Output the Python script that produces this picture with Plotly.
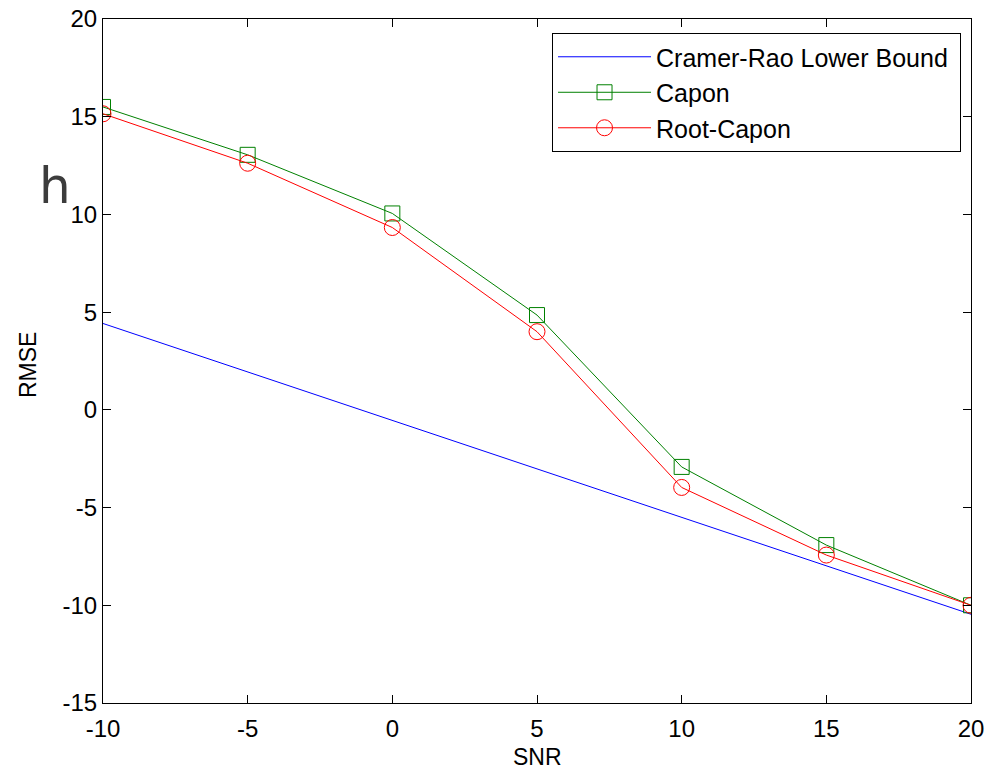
import plotly.graph_objects as go

snr = [-10, -5, 0, 5, 10, 15, 20]
crlb = [4.42, 1.94, -0.54, -3.02, -5.50, -7.98, -10.46]
capon = [15.5, 13.05, 10.05, 4.85, -2.92, -6.92, -10.0]
root_capon = [15.15, 12.62, 9.33, 4.0, -3.97, -7.43, -10.0]

x_ticks = [-10, -5, 0, 5, 10, 15, 20]
y_ticks = [-15, -10, -5, 0, 5, 10, 15, 20]

FONT = "Liberation Sans, Arial, sans-serif"

fig = go.Figure()
fig.add_trace(go.Scatter(
    x=snr, y=crlb, mode="lines", name="Cramer-Rao Lower Bound\u00a0",
    line=dict(color="#0000FF", width=1)))
fig.add_trace(go.Scatter(
    x=snr, y=capon, mode="lines+markers", name="Capon",
    line=dict(color="#008000", width=1),
    marker=dict(symbol="square-open", size=15, color="#008000", line=dict(width=1))))
fig.add_trace(go.Scatter(
    x=snr, y=root_capon, mode="lines+markers", name="Root-Capon",
    line=dict(color="#FF0000", width=1),
    marker=dict(symbol="circle-open", size=16, color="#FF0000", line=dict(width=1))))

axis_common = dict(
    showline=True, linecolor="black", linewidth=1, mirror="ticks",
    ticks="inside", ticklen=8, tickwidth=1, tickcolor="black",
    showgrid=False, zeroline=False, ticklabeloverflow="allow", automargin=False,
    tickfont=dict(family=FONT, size=24, color="black"),
)

fig.update_xaxes(range=[-10, 20], tickvals=x_ticks, ticktext=[str(v) for v in x_ticks],
                 ticklabelstandoff=4, **axis_common)
fig.update_yaxes(range=[-15, 20], tickvals=y_ticks, ticktext=[str(v) for v in y_ticks],
                 **axis_common)

fig.add_annotation(text="SNR", xref="paper", yref="paper", x=0.5, y=-0.079,
                   xanchor="center", yanchor="middle", showarrow=False,
                   font=dict(family=FONT, size=23, color="black"))
fig.add_annotation(text="RMSE", xref="paper", yref="paper", x=-0.0864, y=0.494,
                   xanchor="center", yanchor="middle", showarrow=False, textangle=-90,
                   font=dict(family=FONT, size=23, color="black"))
fig.add_annotation(text="h", xref="paper", yref="paper", x=-0.0553, y=0.756,
                   xanchor="center", yanchor="middle", showarrow=False,
                   font=dict(family="DejaVu Sans", size=50, color="#3c3c3c"))

fig.update_layout(
    width=994, height=770,
    margin=dict(l=103, r=23, t=19, b=67, autoexpand=False),
    paper_bgcolor="white", plot_bgcolor="white",
    showlegend=True,
    legend=dict(
        x=0.9885, y=0.9795, xanchor="right", yanchor="top",
        bgcolor="white", bordercolor="black", borderwidth=1,
        font=dict(family=FONT, size=25, color="black"),
        itemwidth=93, tracegroupgap=0,
    ),
    font=dict(family=FONT),
)

fig.write_html("out.html",
               config={"displayModeBar": False},
               post_script="document.body.style.margin='0';document.body.style.overflow='hidden';")
